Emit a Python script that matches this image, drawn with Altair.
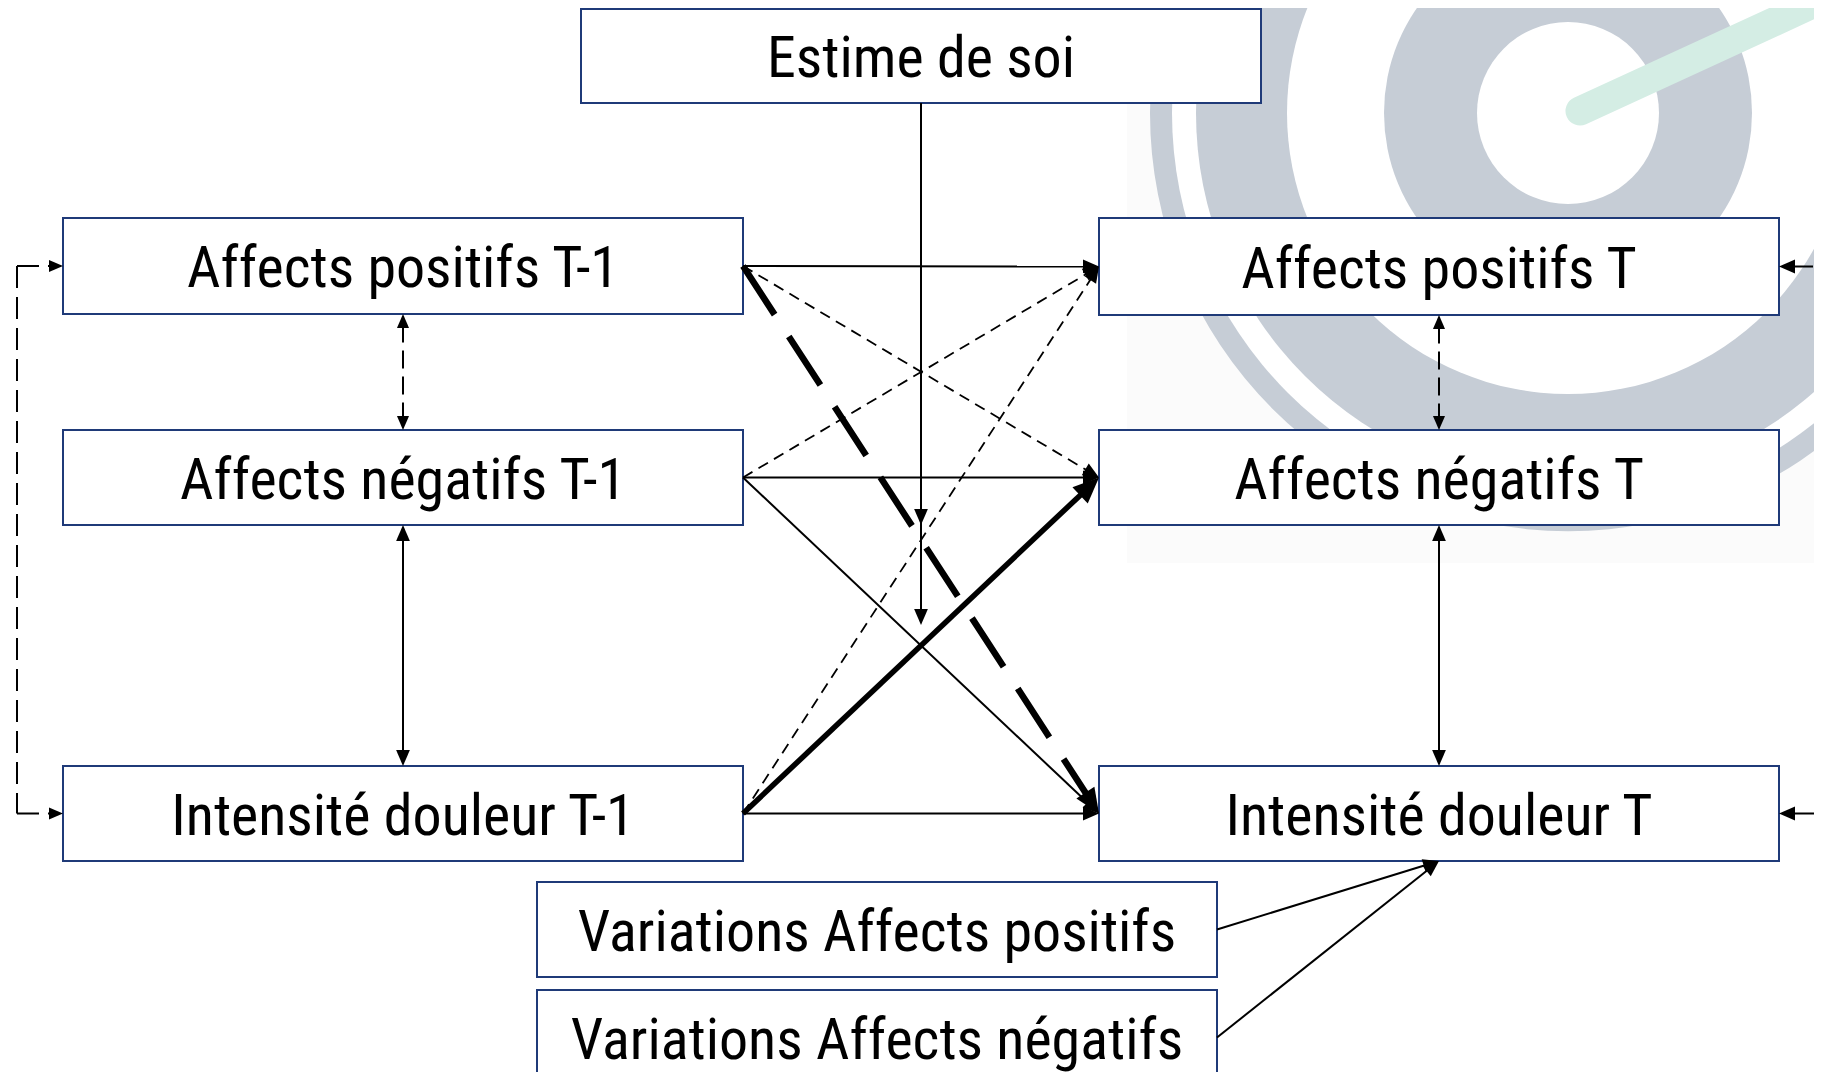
import math
import altair as alt
import pandas as pd

# ---------------- data: nodes of the path diagram ----------------
keys = ["ES", "AP1", "AN1", "ID1", "AP", "AN", "ID", "VAP", "VAN"]
labels = ["Estime de soi", "Affects positifs T-1", "Affects négatifs T-1",
          "Intensité douleur T-1", "Affects positifs T", "Affects négatifs T",
          "Intensité douleur T", "Variations Affects positifs",
          "Variations Affects négatifs"]
box_x0 = [581, 63, 63, 63, 1099, 1099, 1099, 537, 537]
box_x1 = [1261, 743, 743, 743, 1779, 1779, 1779, 1217, 1217]
box_y0 = [9, 218, 430, 766, 218, 430, 766, 882, 990]
box_y1 = [103, 314, 525, 861, 315, 525, 861, 977, 1085]

# directed paths T-1 -> T
edge_from = ["AP1", "AP1", "AP1", "AN1", "AN1", "AN1", "ID1", "ID1", "ID1"]
edge_to = ["AP", "AN", "ID", "AP", "AN", "ID", "AP", "AN", "ID"]
edge_style = ["thin", "thin_dash", "thick_dash", "thin_dash", "thin", "thin",
              "thin_dash", "thick", "thin"]

# correlations (double-headed)
cov_a = ["AP1", "AN1", "AP", "AN"]
cov_b = ["AN1", "ID1", "AN", "ID"]
cov_style = ["thin_vdash", "thin", "thin_vdash", "thin"]

# moderation by "Estime de soi" (arrow tips on the vertical)
mod_tips = [525, 625]

# covariates into intensity T
cov_in = ["VAP", "VAN"]

# logo rings (radius, colour) and needle
ring_r = [418, 396, 372, 281, 184, 91]
ring_c = ["#c6cdd6", "#ffffff", "#c6cdd6", "#ffffff", "#c6cdd6", "#ffffff"]

W, H = 1806, 1064
OX, OY = 8, 8

box = {k: (a, b, c, d) for k, a, b, c, d in zip(keys, box_x0, box_x1, box_y0, box_y1)}


def rmid(k):
    a, b, c, d = box[k]
    return b, (c + d) / 2


def lmid(k):
    a, b, c, d = box[k]
    return a, (c + d) / 2


def bctr(k):
    a, b, c, d = box[k]
    return (a + b) / 2, d


def tctr(k):
    a, b, c, d = box[k]
    return (a + b) / 2, c


HEAD = {"thin": 16, "thin_dash": 16, "thin_vdash": 14, "loop": 14,
        "thick": 26, "thick_dash": 25}

line_rows, head_rows = [], []


def add_arrow(p1, p2, style, end=True, start=False):
    x1, y1 = p1
    x2, y2 = p2
    dx, dy = x2 - x1, y2 - y1
    L = math.hypot(dx, dy)
    ux, uy = dx / L, dy / L
    hl = HEAD[style]
    sx, sy, ex, ey = x1, y1, x2, y2
    if end:
        ex, ey = x2 - ux * hl * 0.75, y2 - uy * hl * 0.75
        ang = (math.degrees(math.atan2(dx, -dy)) + 360) % 360
        head_rows.append({"x": x2, "y": y2, "angle": ang, "size": (2 * hl) ** 2})
    if start:
        sx, sy = x1 + ux * hl * 0.75, y1 + uy * hl * 0.75
        ang = (math.degrees(math.atan2(-dx, dy)) + 360) % 360
        head_rows.append({"x": x1, "y": y1, "angle": ang, "size": (2 * hl) ** 2})
    line_rows.append({"x": sx, "y": sy, "x2": ex, "y2": ey, "style": style})


for f, t, s in zip(edge_from, edge_to, edge_style):
    add_arrow(rmid(f), lmid(t), s)
for a, b, s in zip(cov_a, cov_b, cov_style):
    add_arrow(bctr(a), tctr(b), s, end=True, start=True)
ex_, ey_ = bctr("ES")
line_rows.append({"x": ex_, "y": ey_, "x2": ex_, "y2": mod_tips[-1] - 10, "style": "thin"})
for tip in mod_tips:
    head_rows.append({"x": ex_, "y": tip, "angle": 180.0, "size": (2 * HEAD["thin"]) ** 2})
for k in cov_in:
    add_arrow(rmid(k), bctr("ID"), "thin")
# external arrows from the right edge
add_arrow((1813, rmid("AP")[1]), rmid("AP"), "thin")
add_arrow((1845, rmid("ID")[1]), rmid("ID"), "thin")
# left loop (T-1 stability)
loop_x = 17
ya, yb = lmid("AP1")[1], lmid("ID1")[1]
line_rows.append({"x": loop_x, "y": ya, "x2": loop_x, "y2": yb, "style": "loop"})
add_arrow((loop_x, ya), lmid("AP1"), "loop")
add_arrow((loop_x, yb), lmid("ID1"), "loop")

lines = pd.DataFrame(line_rows)
heads = pd.DataFrame(head_rows)
FS = 58
nodes = pd.DataFrame({"key": keys, "label": labels, "x0": box_x0, "x1": box_x1,
                      "y0": box_y0, "y1": box_y1})
nodes["cx"] = (nodes.x0 + nodes.x1) / 2
nodes["ty"] = (nodes.y0 + nodes.y1) / 2 + 0.37 * FS

logo_cx, logo_cy = 1568, 113
rings = pd.DataFrame({"x": [logo_cx] * len(ring_r), "y": [logo_cy] * len(ring_r),
                      "size": [(2 * r) ** 2 for r in ring_r], "color": ring_c})
needle = pd.DataFrame({"x": [1580], "y": [111], "x2": [1880], "y2": [-27]})
bg = pd.DataFrame({"x": [1127], "x2": [1830], "y": [0], "y2": [563]})

xs = alt.Scale(domain=[OX, OX + W], range=[0, W], nice=False, zero=False)
ys = alt.Scale(domain=[OY, OY + H], range=[0, H], nice=False, zero=False)


def X(f):
    return alt.X(f, type="quantitative", scale=xs, axis=None)


def Y(f):
    return alt.Y(f, type="quantitative", scale=ys, axis=None)


layers = []
layers.append(alt.Chart(bg).mark_rect(color="#fbfbfb").encode(
    x=X("x"), x2="x2", y=Y("y"), y2="y2"))
for i in range(len(ring_r)):
    layers.append(alt.Chart(rings.iloc[[i]]).mark_point(
        shape="circle", filled=True, opacity=1, strokeWidth=0, color=ring_c[i]).encode(
        x=X("x"), y=Y("y"), size=alt.Size("size:Q", scale=None)))
layers.append(alt.Chart(needle).mark_rule(color="#d4ede4", strokeWidth=29, strokeCap="round").encode(
    x=X("x"), x2="x2", y=Y("y"), y2="y2"))

layers.append(alt.Chart(nodes).mark_rect(fill="white", stroke="#1f3a78", strokeWidth=2).encode(
    x=X("x0"), x2="x1", y=Y("y0"), y2="y1"))
layers.append(alt.Chart(nodes).mark_text(
    font="Roboto Condensed, Liberation Sans, sans-serif",
    fontSize=FS, baseline="alphabetic", align="center", color="black").encode(
    x=X("cx"), y=Y("ty"), text="label:N"))

styles = {
    "thin": dict(strokeWidth=2),
    "thin_dash": dict(strokeWidth=1.8, strokeDash=[11, 7]),
    "thin_vdash": dict(strokeWidth=2, strokeDash=[18, 8]),
    "loop": dict(strokeWidth=2, strokeDash=[22, 9]),
    "thick": dict(strokeWidth=5.5),
    "thick_dash": dict(strokeWidth=6.5, strokeDash=[58, 26]),
}
for s, kw in styles.items():
    layers.append(alt.Chart(lines).transform_filter(alt.datum.style == s).mark_rule(
        color="black", **kw).encode(x=X("x"), x2="x2", y=Y("y"), y2="y2"))

layers.append(alt.Chart(heads).mark_point(
    shape="M0,0L-0.43,1L0.43,1Z", filled=True, opacity=1, strokeWidth=0, color="black").encode(
    x=X("x"), y=Y("y"), angle=alt.Angle("angle:Q", scale=None),
    size=alt.Size("size:Q", scale=None)))

chart = alt.layer(*layers).properties(
    width=W, height=H, padding=0,
    autosize=alt.AutoSizeParams(type="none"),
    background="white",
).configure_view(stroke=None)

chart.save("out.html", embed_options={"renderer": "svg", "actions": False})
